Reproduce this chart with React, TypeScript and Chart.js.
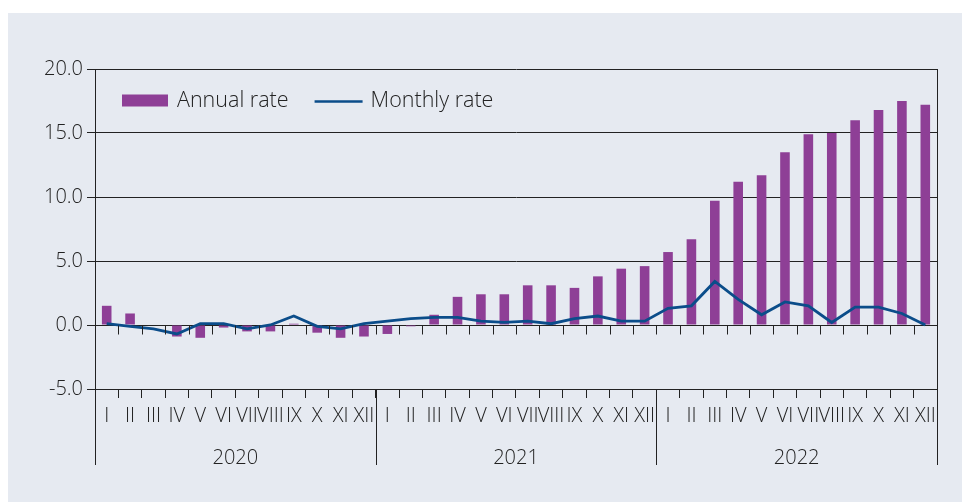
import React, { useEffect, useRef } from "react";
import { Chart, registerables } from "chart.js";

Chart.register(...registerables);

const monthLabels = ["I", "II", "III", "IV", "V", "VI", "VII", "VIII", "IX", "X", "XI", "XII"];
const years = ["2020", "2021", "2022"];
const categories = [...monthLabels, ...monthLabels, ...monthLabels];

const annualRate = [
  1.5, 0.9, 0.0, -0.9, -1.0, -0.2, -0.5, -0.5, 0.1, -0.6, -1.0, -0.9,
  -0.7, -0.1, 0.8, 2.2, 2.4, 2.4, 3.1, 3.1, 2.9, 3.8, 4.4, 4.6,
  5.7, 6.7, 9.7, 11.2, 11.7, 13.5, 14.9, 15.0, 16.0, 16.8, 17.5, 17.2,
];
const monthlyRate = [
  0.1, -0.1, -0.3, -0.7, 0.1, 0.1, -0.3, 0.0, 0.7, -0.1, -0.3, 0.1,
  0.3, 0.5, 0.6, 0.6, 0.3, 0.2, 0.3, 0.1, 0.5, 0.7, 0.3, 0.3,
  1.3, 1.5, 3.4, 2.0, 0.8, 1.8, 1.5, 0.2, 1.4, 1.4, 0.9, 0.0,
];
const yTicks = [-5, 0, 5, 10, 15, 20];

const FONT = "'Open Sans', 'Noto Sans', sans-serif";
const TEXT = "#222222";
const LINE = "#222222";
const PURPLE = "#8e3f96";
const BLUE = "#0b4d8a";

const decorPlugin = {
  id: "decor",
  afterDraw(chart: any) {
    const { ctx, chartArea, scales } = chart;
    const x = scales.x;
    const y = scales.y;
    const n = categories.length;
    const y0 = Math.round(y.getPixelForValue(0)) + 0.5;
    const bottomEnd = chartArea.bottom + 76;
    ctx.save();
    ctx.strokeStyle = LINE;
    ctx.lineWidth = 1;
    ctx.beginPath();
    for (let i = 1; i < n; i++) {
      const px = Math.round(x.getPixelForValue(i - 0.5)) + 0.5;
      ctx.moveTo(px, y0);
      ctx.lineTo(px, y0 + 9);
    }
    for (let i = 0; i <= n; i += 12) {
      const px = Math.round(x.getPixelForValue(i - 0.5)) + 0.5;
      const top = i === 0 || i === n ? chartArea.top : chartArea.bottom;
      ctx.moveTo(px, top);
      ctx.lineTo(px, bottomEnd);
    }
    ctx.stroke();

    // legend
    const ds = chart.data.datasets;
    const cy = chartArea.top + 31.5;
    ctx.font = `300 21.5px ${FONT}`;
    ctx.textBaseline = "middle";
    ctx.fillStyle = TEXT;
    let lx = chartArea.left + 27;
    const bar = ds.find((d: any) => d.type === "bar");
    const line = ds.find((d: any) => d.type === "line");
    ctx.fillStyle = bar.backgroundColor;
    ctx.fillRect(lx, cy - 6, 46, 12);
    lx += 55;
    ctx.fillStyle = TEXT;
    ctx.fillText(bar.label, lx, cy);
    lx += ctx.measureText(bar.label).width + 26;
    ctx.strokeStyle = line.borderColor;
    ctx.lineWidth = 2.5;
    ctx.beginPath();
    ctx.moveTo(lx, cy + 1);
    ctx.lineTo(lx + 48, cy + 1);
    ctx.stroke();
    lx += 56;
    ctx.fillText(line.label, lx, cy);
    ctx.restore();
  },
};

export default function App() {
  const ref = useRef<HTMLCanvasElement | null>(null);
  useEffect(() => {
    if (!ref.current) return;
    const chart = new Chart(ref.current, {
      type: "bar",
      data: {
        labels: categories,
        datasets: [
          {
            type: "line",
            label: "Monthly rate",
            data: monthlyRate,
            borderColor: BLUE,
            backgroundColor: BLUE,
            borderWidth: 2.8,
            pointRadius: 0,
            tension: 0,
            order: 0,
          } as any,
          {
            type: "bar",
            label: "Annual rate",
            data: annualRate,
            backgroundColor: PURPLE,
            barPercentage: 0.41,
            categoryPercentage: 1,
            order: 1,
          } as any,
        ],
      },
      options: {
        animation: false,
        responsive: false,
        layout: { padding: { left: 0, right: 25, top: 56, bottom: 20 } },
        plugins: { legend: { display: false }, tooltip: { enabled: false } },
        scales: {
          y: {
            min: -5,
            max: 20,
            afterFit: (s: any) => {
              s.width = 87;
            },
            afterBuildTicks: (s: any) => {
              s.ticks = yTicks.map((v) => ({ value: v }));
            },
            ticks: {
              callback: (v: any) => Number(v).toFixed(1),
              color: TEXT,
              padding: 4,
              font: { family: FONT, size: 20, weight: "300" as any },
            },
            grid: { color: LINE, lineWidth: 1, tickLength: 8, tickColor: LINE },
            border: { display: true, color: LINE, width: 1 },
          },
          x: {
            position: "bottom",
            offset: true,
            ticks: {
              autoSkip: false,
              maxRotation: 0,
              minRotation: 0,
              color: TEXT,
              padding: 6,
              font: { family: FONT, size: 20, weight: "300" as any },
            },
            grid: {
              offset: true,
              drawOnChartArea: false,
              tickLength: 9,
              color: LINE,
              tickColor: LINE,
            },
            border: { display: true, color: LINE },
          },
          x2: {
            type: "category",
            labels: years,
            position: "bottom",
            offset: true,
            ticks: {
              autoSkip: false,
              maxRotation: 0,
              color: TEXT,
              padding: 12,
              font: { family: FONT, size: 20, weight: "300" as any },
            },
            grid: { display: false, drawTicks: false },
            border: { display: false },
          },
        },
      } as any,
      plugins: [decorPlugin],
    });
    return () => chart.destroy();
  }, []);

  return (
    <div
      style={{
        position: "fixed",
        left: 8,
        top: 13,
        width: 954,
        height: 489,
        background: "#e6eaf1",
      }}
    >
      <canvas ref={ref} width={954} height={489} />
    </div>
  );
}
